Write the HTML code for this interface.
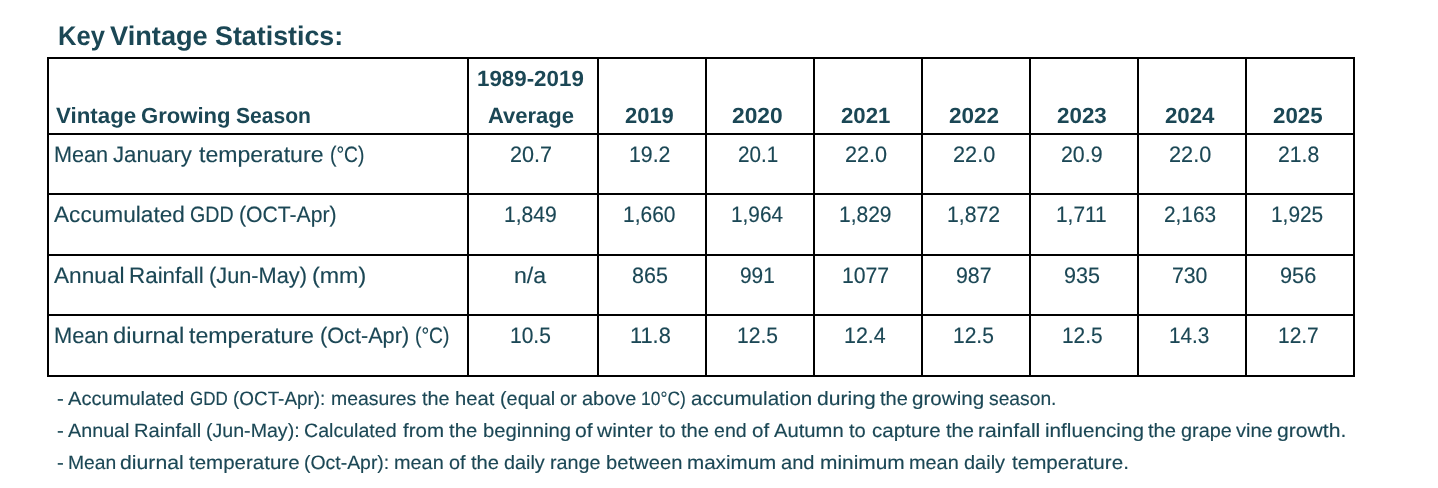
<!DOCTYPE html>
<html lang="en">
<head>
<meta charset="utf-8">
<title>Key Vintage Statistics</title>
<style>
html,body{margin:0;padding:0;background:#fff}
body{width:1438px;height:488px;position:relative;overflow:hidden;font-family:"Liberation Sans", sans-serif;color:#1b4755;text-rendering:geometricPrecision}
.page{position:absolute;left:0;top:0;width:1438px;height:488px;will-change:transform}
h2,p,table,tbody,tr,th,td{display:block;position:absolute;margin:0;padding:0;white-space:nowrap;line-height:1;font-weight:400;text-align:left}
h2,p{left:0;width:1438px;height:0}
table,tbody,tr{left:0;top:0;width:0;height:0;border:0}
th,td{box-sizing:border-box;border:2px solid #000}
span{position:absolute;display:block;transform-origin:0 0;white-space:pre}
h2,th{font-weight:700;-webkit-text-stroke:0}
p,td{-webkit-text-stroke:0.15px #1b4755}
h2{font-size:27.0px}
th{font-size:22.0px}
td{font-size:22.3px}
p{font-size:19.3px}
</style>
</head>
<body>
<div class="page">
<h2 style="top:23px"><span style="left:57.63px;top:0px;transform:scaleX(0.9457)">Key</span> <span style="left:110.40px;top:0px;transform:scaleX(1.0074)">Vintage</span> <span style="left:215.35px;top:0px;transform:scaleX(0.9935)">Statistics:</span></h2>
<table>
<tbody>
<tr>
<th scope="col" style="left:47px;top:57px;width:422px;height:78px"><span style="left:7.02px;top:46px;transform:scaleX(1.0151)">Vintage</span> <span style="left:92.35px;top:46px;transform:scaleX(1.0037)">Growing</span> <span style="left:186.56px;top:46px;transform:scaleX(0.9576)">Season</span></th>
<th scope="col" style="left:467px;top:57px;width:132px;height:78px"><span style="left:8.14px;top:9px;transform:scaleX(1.0151)">1989-2019</span> <span style="left:18.78px;top:46px;transform:scaleX(1.0003)">Average</span></th>
<th scope="col" style="left:597px;top:57px;width:110px;height:78px"><span style="left:26.34px;top:46px;transform:scaleX(0.9974)">2019</span></th>
<th scope="col" style="left:705px;top:57px;width:110px;height:78px"><span style="left:25.41px;top:46px;transform:scaleX(1.0348)">2020</span></th>
<th scope="col" style="left:813px;top:57px;width:110px;height:78px"><span style="left:26.23px;top:46px;transform:scaleX(1.0087)">2021</span></th>
<th scope="col" style="left:921px;top:57px;width:110px;height:78px"><span style="left:25.92px;top:46px;transform:scaleX(1.0235)">2022</span></th>
<th scope="col" style="left:1029px;top:57px;width:110px;height:78px"><span style="left:26.12px;top:46px;transform:scaleX(1.0166)">2023</span></th>
<th scope="col" style="left:1137px;top:57px;width:110px;height:78px"><span style="left:25.83px;top:46px;transform:scaleX(1.0114)">2024</span></th>
<th scope="col" style="left:1245px;top:57px;width:110px;height:78px"><span style="left:26.03px;top:46px;transform:scaleX(1.0130)">2025</span></th>
</tr>
<tr>
<td style="left:47px;top:133px;width:422px;height:62px"><span style="left:5.02px;top:9px;transform:scaleX(0.9705)">Mean</span> <span style="left:64.30px;top:9px;transform:scaleX(0.9948)">January</span> <span style="left:150.34px;top:9px;transform:scaleX(1.0356)">temperature</span> <span style="left:280.60px;top:9px;transform:scaleX(0.8639)">(°C)</span></td>
<td style="left:467px;top:133px;width:132px;height:62px"><span style="left:41.02px;top:9px;transform:scaleX(0.9676)">20.7</span></td>
<td style="left:597px;top:133px;width:110px;height:62px"><span style="left:30.03px;top:9px;transform:scaleX(0.9555)">19.2</span></td>
<td style="left:705px;top:133px;width:110px;height:62px"><span style="left:30.76px;top:9px;transform:scaleX(0.9262)">20.1</span></td>
<td style="left:813px;top:133px;width:110px;height:62px"><span style="left:30.12px;top:9px;transform:scaleX(0.9705)">22.0</span></td>
<td style="left:921px;top:133px;width:110px;height:62px"><span style="left:29.91px;top:9px;transform:scaleX(0.9729)">22.0</span></td>
<td style="left:1029px;top:133px;width:110px;height:62px"><span style="left:30.23px;top:9px;transform:scaleX(0.9575)">20.9</span></td>
<td style="left:1137px;top:133px;width:110px;height:62px"><span style="left:29.81px;top:9px;transform:scaleX(0.9729)">22.0</span></td>
<td style="left:1245px;top:133px;width:110px;height:62px"><span style="left:30.54px;top:9px;transform:scaleX(0.9490)">21.8</span></td>
</tr>
<tr>
<td style="left:47px;top:193px;width:422px;height:63px"><span style="left:4.56px;top:9px;transform:scaleX(1.0154)">Accumulated</span> <span style="left:141.40px;top:9px;transform:scaleX(0.8800)">GDD</span> <span style="left:190.39px;top:9px;transform:scaleX(0.9494)">(OCT-Apr)</span></td>
<td style="left:467px;top:193px;width:132px;height:63px"><span style="left:35.05px;top:9px;transform:scaleX(0.9462)">1,849</span></td>
<td style="left:597px;top:193px;width:110px;height:63px"><span style="left:24.36px;top:9px;transform:scaleX(0.9404)">1,660</span></td>
<td style="left:705px;top:193px;width:110px;height:63px"><span style="left:24.47px;top:9px;transform:scaleX(0.9316)">1,964</span></td>
<td style="left:813px;top:193px;width:110px;height:63px"><span style="left:24.16px;top:9px;transform:scaleX(0.9406)">1,829</span></td>
<td style="left:921px;top:193px;width:110px;height:63px"><span style="left:23.84px;top:9px;transform:scaleX(0.9499)">1,872</span></td>
<td style="left:1029px;top:193px;width:110px;height:63px"><span style="left:25.07px;top:9px;transform:scaleX(0.9351)">1,711</span></td>
<td style="left:1137px;top:193px;width:110px;height:63px"><span style="left:24.85px;top:9px;transform:scaleX(0.9328)">2,163</span></td>
<td style="left:1245px;top:193px;width:110px;height:63px"><span style="left:24.37px;top:9px;transform:scaleX(0.9357)">1,925</span></td>
</tr>
<tr>
<td style="left:47px;top:254px;width:422px;height:62px"><span style="left:4.56px;top:9px;transform:scaleX(1.0165)">Annual</span> <span style="left:79.96px;top:9px;transform:scaleX(1.0046)">Rainfall</span> <span style="left:159.95px;top:9px;transform:scaleX(0.9759)">(Jun-May)</span> <span style="left:263.46px;top:9px;transform:scaleX(1.0411)">(mm)</span></td>
<td style="left:467px;top:254px;width:132px;height:62px"><span style="left:45.32px;top:9px;transform:scaleX(1.0358)">n/a</span></td>
<td style="left:597px;top:254px;width:110px;height:62px"><span style="left:32.87px;top:9px;transform:scaleX(0.9634)">865</span></td>
<td style="left:705px;top:254px;width:110px;height:62px"><span style="left:33.47px;top:9px;transform:scaleX(0.9349)">991</span></td>
<td style="left:813px;top:254px;width:110px;height:62px"><span style="left:26.74px;top:9px;transform:scaleX(0.9507)">1077</span></td>
<td style="left:921px;top:254px;width:110px;height:62px"><span style="left:32.75px;top:9px;transform:scaleX(0.9560)">987</span></td>
<td style="left:1029px;top:254px;width:110px;height:62px"><span style="left:32.74px;top:9px;transform:scaleX(0.9669)">935</span></td>
<td style="left:1137px;top:254px;width:110px;height:62px"><span style="left:33.33px;top:9px;transform:scaleX(0.9517)">730</span></td>
<td style="left:1245px;top:254px;width:110px;height:62px"><span style="left:33.04px;top:9px;transform:scaleX(0.9735)">956</span></td>
</tr>
<tr>
<td style="left:47px;top:314px;width:422px;height:63px"><span style="left:4.70px;top:9px;transform:scaleX(0.9800)">Mean</span> <span style="left:63.74px;top:9px;transform:scaleX(1.0649)">diurnal</span> <span style="left:140.34px;top:9px;transform:scaleX(1.0389)">temperature</span> <span style="left:270.85px;top:9px;transform:scaleX(0.9723)">(Oct-Apr)</span> <span style="left:366.40px;top:9px;transform:scaleX(0.8639)">(°C)</span></td>
<td style="left:467px;top:314px;width:132px;height:63px"><span style="left:41.26px;top:9px;transform:scaleX(0.9409)">10.5</span></td>
<td style="left:597px;top:314px;width:110px;height:63px"><span style="left:30.70px;top:9px;transform:scaleX(0.9771)">11.8</span></td>
<td style="left:705px;top:314px;width:110px;height:63px"><span style="left:30.05px;top:9px;transform:scaleX(0.9434)">12.5</span></td>
<td style="left:813px;top:314px;width:110px;height:63px"><span style="left:29.43px;top:9px;transform:scaleX(0.9599)">12.4</span></td>
<td style="left:921px;top:314px;width:110px;height:63px"><span style="left:30.06px;top:9px;transform:scaleX(0.9409)">12.5</span></td>
<td style="left:1029px;top:314px;width:110px;height:63px"><span style="left:30.57px;top:9px;transform:scaleX(0.9360)">12.5</span></td>
<td style="left:1137px;top:314px;width:110px;height:63px"><span style="left:30.48px;top:9px;transform:scaleX(0.9291)">14.3</span></td>
<td style="left:1245px;top:314px;width:110px;height:63px"><span style="left:30.56px;top:9px;transform:scaleX(0.9384)">12.7</span></td>
</tr>
</tbody>
</table>
<p style="top:390px"><span style="left:57.01px;top:0px;transform:scaleX(1.0574)">-</span> <span style="left:67.97px;top:0px;transform:scaleX(1.0421)">Accumulated</span> <span style="left:189.75px;top:0px;transform:scaleX(0.8801)">GDD</span> <span style="left:233.38px;top:0px;transform:scaleX(0.9797)">(OCT-Apr):</span> <span style="left:331.26px;top:0px;transform:scaleX(1.0069)">measures</span> <span style="left:422.38px;top:0px;transform:scaleX(1.0298)">the</span> <span style="left:454.69px;top:0px;transform:scaleX(1.0481)">heat</span> <span style="left:499.93px;top:0px;transform:scaleX(1.0314)">(equal</span> <span style="left:559.78px;top:0px;transform:scaleX(0.9869)">or</span> <span style="left:582.23px;top:0px;transform:scaleX(1.0346)">above</span> <span style="left:640.89px;top:0px;transform:scaleX(0.9057)">10°C)</span> <span style="left:690.80px;top:0px;transform:scaleX(1.0675)">accumulation</span> <span style="left:816.90px;top:0px;transform:scaleX(1.0958)">during</span> <span style="left:879.57px;top:0px;transform:scaleX(1.0414)">the</span> <span style="left:912.42px;top:0px;transform:scaleX(1.0678)">growing</span> <span style="left:988.73px;top:0px;transform:scaleX(0.9989)">season.</span></p>
<p style="top:422px"><span style="left:57.01px;top:0px;transform:scaleX(1.0574)">-</span> <span style="left:67.97px;top:0px;transform:scaleX(1.0242)">Annual</span> <span style="left:133.78px;top:0px;transform:scaleX(1.0443)">Rainfall</span> <span style="left:206.05px;top:0px;transform:scaleX(1.0160)">(Jun-May):</span> <span style="left:303.72px;top:0px;transform:scaleX(1.0165)">Calculated</span> <span style="left:403.27px;top:0px;transform:scaleX(1.0633)">from</span> <span style="left:449.07px;top:0px;transform:scaleX(1.0530)">the</span> <span style="left:482.94px;top:0px;transform:scaleX(1.0519)">beginning</span> <span style="left:575.00px;top:0px;transform:scaleX(1.0953)">of</span> <span style="left:597.30px;top:0px;transform:scaleX(1.0874)">winter</span> <span style="left:658.87px;top:0px;transform:scaleX(1.0392)">to</span> <span style="left:680.87px;top:0px;transform:scaleX(1.0491)">the</span> <span style="left:714.16px;top:0px;transform:scaleX(1.0146)">end</span> <span style="left:752.12px;top:0px;transform:scaleX(1.0697)">of</span> <span style="left:774.47px;top:0px;transform:scaleX(1.0480)">Autumn</span> <span style="left:849.27px;top:0px;transform:scaleX(1.0458)">to</span> <span style="left:871.72px;top:0px;transform:scaleX(1.0677)">capture</span> <span style="left:945.67px;top:0px;transform:scaleX(1.0452)">the</span> <span style="left:978.16px;top:0px;transform:scaleX(1.0972)">rainfall</span> <span style="left:1044.59px;top:0px;transform:scaleX(1.0726)">influencing</span> <span style="left:1147.97px;top:0px;transform:scaleX(1.0491)">the</span> <span style="left:1180.74px;top:0px;transform:scaleX(1.0304)">grape</span> <span style="left:1235.75px;top:0px;transform:scaleX(1.0392)">vine</span> <span style="left:1277.00px;top:0px;transform:scaleX(1.0975)">growth.</span></p>
<p style="top:454px"><span style="left:57.01px;top:0px;transform:scaleX(1.0574)">-</span> <span style="left:67.65px;top:0px;transform:scaleX(1.0009)">Mean</span> <span style="left:120.29px;top:0px;transform:scaleX(1.1020)">diurnal</span> <span style="left:188.57px;top:0px;transform:scaleX(1.0633)">temperature</span> <span style="left:304.46px;top:0px;transform:scaleX(1.0072)">(Oct-Apr):</span> <span style="left:393.83px;top:0px;transform:scaleX(1.0310)">mean</span> <span style="left:448.65px;top:0px;transform:scaleX(1.0313)">of</span> <span style="left:470.67px;top:0px;transform:scaleX(1.0491)">the</span> <span style="left:503.95px;top:0px;transform:scaleX(1.0271)">daily</span> <span style="left:550.15px;top:0px;transform:scaleX(1.0240)">range</span> <span style="left:605.95px;top:0px;transform:scaleX(1.0483)">between</span> <span style="left:686.88px;top:0px;transform:scaleX(1.0686)">maximum</span> <span style="left:780.72px;top:0px;transform:scaleX(1.0414)">and</span> <span style="left:819.56px;top:0px;transform:scaleX(1.0840)">minimum</span> <span style="left:909.43px;top:0px;transform:scaleX(1.0310)">mean</span> <span style="left:964.44px;top:0px;transform:scaleX(1.0349)">daily</span> <span style="left:1011.66px;top:0px;transform:scaleX(1.0690)">temperature.</span></p>
</div>
</body>
</html>
